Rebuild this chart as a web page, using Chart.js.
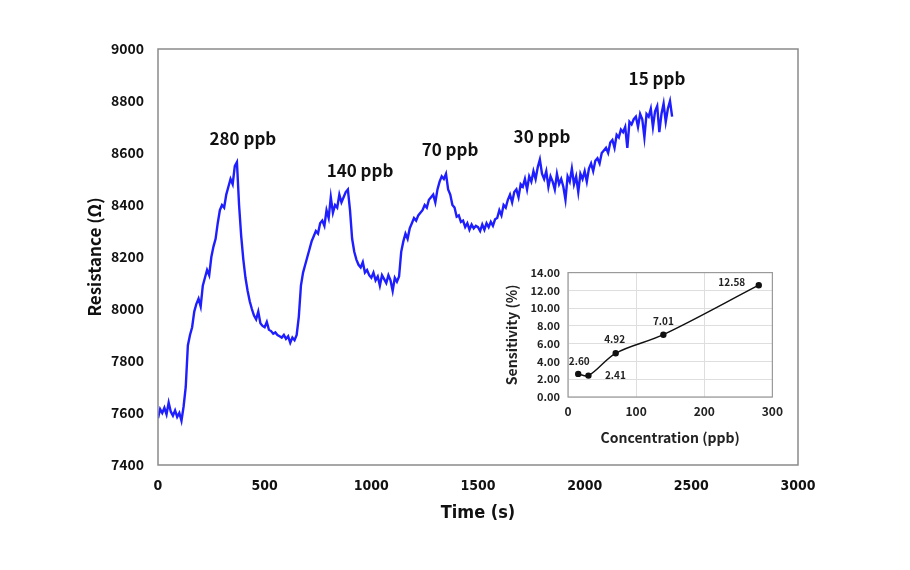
<!DOCTYPE html>
<html>
<head>
<meta charset="utf-8">
<title>Resistance vs Time</title>
<script src="https://cdn.jsdelivr.net/npm/chart.js@4.4.0/dist/chart.umd.min.js"></script>
<style>
    body { margin: 0; background: #fff; }
    #wrap { position: relative; width: 910px; height: 570px; }
    #mainChart { position: absolute; left: 0; top: 0; }
    #insetChart { position: absolute; left: 495px; top: 258px; }
</style>
</head>
<body>
<div id="wrap">
    <canvas id="mainChart" width="910" height="570"></canvas>
    <canvas id="insetChart" width="295" height="192"></canvas>
</div>
<script>
// ============================================
// DATA
// ============================================

// time (s), one reading every 10 s
const timeSec = [
    0, 10, 20, 30, 40, 50, 60, 70, 80, 90,
    100, 110, 120, 130, 140, 150, 160, 170, 180, 190,
    200, 210, 220, 230, 240, 250, 260, 270, 280, 290,
    300, 310, 320, 330, 340, 350, 360, 370, 380, 390,
    400, 410, 420, 430, 440, 450, 460, 470, 480, 490,
    500, 510, 520, 530, 540, 550, 560, 570, 580, 590,
    600, 610, 620, 630, 640, 650, 660, 670, 680, 690,
    700, 710, 720, 730, 740, 750, 760, 770, 780, 790,
    800, 810, 820, 830, 840, 850, 860, 870, 880, 890,
    900, 910, 920, 930, 940, 950, 960, 970, 980, 990,
    1000, 1010, 1020, 1030, 1040, 1050, 1060, 1070, 1080, 1090,
    1100, 1110, 1120, 1130, 1140, 1150, 1160, 1170, 1180, 1190,
    1200, 1210, 1220, 1230, 1240, 1250, 1260, 1270, 1280, 1290,
    1300, 1310, 1320, 1330, 1340, 1350, 1360, 1370, 1380, 1390,
    1400, 1410, 1420, 1430, 1440, 1450, 1460, 1470, 1480, 1490,
    1500, 1510, 1520, 1530, 1540, 1550, 1560, 1570, 1580, 1590,
    1600, 1610, 1620, 1630, 1640, 1650, 1660, 1670, 1680, 1690,
    1700, 1710, 1720, 1730, 1740, 1750, 1760, 1770, 1780, 1790,
    1800, 1810, 1820, 1830, 1840, 1850, 1860, 1870, 1880, 1890,
    1900, 1910, 1920, 1930, 1940, 1950, 1960, 1970, 1980, 1990,
    2000, 2010, 2020, 2030, 2040, 2050, 2060, 2070, 2080, 2090,
    2100, 2110, 2120, 2130, 2140, 2150, 2160, 2170, 2180, 2190,
    2200, 2210, 2220, 2230, 2240, 2250, 2260, 2270, 2280, 2290,
    2300, 2310, 2320, 2330, 2340, 2350, 2360, 2370, 2380, 2390,
    2400, 2410
];

// resistance (ohm)
const resistance = [
    7580, 7615, 7600, 7620, 7595, 7640, 7605, 7590, 7610, 7585,
    7600, 7570, 7625, 7700, 7860, 7900, 7930, 7990, 8020, 8040,
    8010, 8090, 8120, 8150, 8130, 8200, 8240, 8270, 8330, 8380,
    8400, 8390, 8440, 8470, 8500, 8480, 8550, 8565, 8400, 8280,
    8190, 8120, 8070, 8030, 8000, 7975, 7960, 7990, 7945, 7935,
    7930, 7950, 7920, 7915, 7905, 7910, 7900, 7895, 7890, 7900,
    7885, 7895, 7870, 7890, 7880, 7900, 7970, 8090, 8140, 8170,
    8200, 8230, 8260, 8280, 8300, 8290, 8330, 8340, 8320, 8380,
    8350, 8430, 8370, 8400, 8390, 8440, 8410, 8430, 8450, 8460,
    8380, 8270, 8220, 8190, 8170, 8160, 8180, 8140, 8150, 8130,
    8120, 8140, 8110, 8125, 8090, 8130, 8115, 8100, 8130, 8110,
    8070, 8120, 8105, 8125, 8220, 8260, 8290, 8270, 8310, 8330,
    8350, 8340, 8360, 8370, 8380, 8400, 8390, 8420, 8430, 8440,
    8410, 8460, 8490, 8510, 8500, 8520, 8460, 8440, 8400, 8390,
    8355, 8360, 8335, 8340, 8315, 8330, 8305, 8325, 8310, 8320,
    8315, 8300, 8325, 8305, 8330, 8315, 8335, 8320, 8345, 8350,
    8380, 8360, 8400, 8390, 8420, 8440, 8410, 8450, 8460, 8430,
    8480, 8470, 8500, 8460, 8510, 8490, 8530, 8500, 8545, 8575,
    8520, 8500, 8530, 8470, 8510, 8490, 8460, 8520, 8480, 8500,
    8470, 8420, 8510, 8490, 8540, 8480, 8510, 8450, 8520, 8500,
    8530, 8490, 8540, 8560, 8530, 8570, 8580, 8560, 8600, 8610,
    8620, 8600, 8640, 8650, 8620, 8670, 8660, 8690, 8680, 8700,
    8620, 8720, 8710, 8730, 8740, 8700, 8750, 8730, 8660, 8750,
    8740, 8770, 8700, 8760, 8780, 8680, 8750, 8790, 8720, 8770,
    8800, 8740
];

const xTicks = [0, 500, 1000, 1500, 2000, 2500, 3000];
const yTicks = [7400, 7600, 7800, 8000, 8200, 8400, 8600, 8800, 9000];

// concentration labels above each response
const peakText = ['280 ppb', '140 ppb', '70 ppb', '30 ppb', '15 ppb'];
const peakTime = [398, 947, 1369, 1800, 2339];
const peakRes = [8654, 8531, 8615, 8665, 8885];

// inset: sensitivity vs concentration
const concentration = [15, 30, 70, 140, 280];
const sensitivity = [2.60, 2.41, 4.92, 7.01, 12.58];
const insetXTicks = [0, 100, 200, 300];
const insetYTicks = [0, 2, 4, 6, 8, 10, 12, 14];

// ============================================
// STYLE
// ============================================
const FONT = '"Noto Sans CJK KR", "Noto Sans", sans-serif';
const NARROW = '"DejaVu Sans Condensed", "Noto Sans CJK KR", sans-serif';
const LINE_BLUE = '#1e1eff';
const BOX_GREY = '#8a8a8a';

// pixel offsets of the inset value labels from their points
const insetLabelOffset = [[1, -13], [27, 0], [-1, -14], [0, -14], [-27, -3]];

const boxBorder = {
    id: 'boxBorder',
    afterDraw(chart, args, opts) {
        const { ctx, chartArea: a } = chart;
        ctx.save();
        ctx.strokeStyle = opts.color || BOX_GREY;
        ctx.lineWidth = opts.width || 1.5;
        ctx.strokeRect(a.left, a.top, a.right - a.left, a.bottom - a.top);
        ctx.restore();
    }
};

const peakLabels = {
    id: 'peakLabels',
    afterDatasetsDraw(chart) {
        if (chart.canvas.id !== 'mainChart') return;
        const { ctx, scales } = chart;
        ctx.save();
        ctx.font = 'bold 17px ' + FONT;
        ctx.fillStyle = '#111';
        ctx.textAlign = 'center';
        ctx.textBaseline = 'middle';
        peakText.forEach((txt, i) => {
            ctx.fillText(txt, scales.x.getPixelForValue(peakTime[i]), scales.y.getPixelForValue(peakRes[i]));
        });
        ctx.restore();
    }
};

const valueLabels = {
    id: 'valueLabels',
    afterDatasetsDraw(chart) {
        if (chart.canvas.id !== 'insetChart') return;
        const { ctx } = chart;
        const pts = chart.getDatasetMeta(0).data;
        ctx.save();
        ctx.font = 'bold 10px ' + FONT;
        ctx.fillStyle = '#222';
        ctx.textAlign = 'center';
        ctx.textBaseline = 'middle';
        pts.forEach((p, i) => {
            const off = insetLabelOffset[i];
            ctx.fillText(sensitivity[i].toFixed(2), p.x + off[0], p.y + off[1]);
        });
        ctx.restore();
    }
};

function fixedTicks(values) {
    return (scale) => {
        scale.ticks = values.map((v) => ({ value: v }));
    };
}

// ============================================
// MAIN CHART
// ============================================
function initMainChart() {
    const ctx = document.getElementById('mainChart');
    new Chart(ctx, {
        type: 'line',
        data: {
            datasets: [
                {
                    data: timeSec.map((t, i) => ({ x: t, y: resistance[i] })),
                    borderColor: LINE_BLUE,
                    borderWidth: 2.4,
                    pointRadius: 0,
                    tension: 0,
                    fill: false,
                },
            ],
        },
        options: {
            responsive: false,
            animation: false,
            layout: { padding: { left: 80, right: 112, top: 49, bottom: 42 } },
            plugins: {
                legend: { display: false },
                tooltip: { enabled: false },
                boxBorder: { color: BOX_GREY, width: 1.5 },
            },
            scales: {
                x: {
                    type: 'linear',
                    min: 0,
                    max: 3000,
                    afterBuildTicks: fixedTicks(xTicks),
                    afterFit: (s) => { s.height = 63; },
                    grid: { display: false, drawTicks: false },
                    border: { display: false },
                    ticks: {
                        padding: 13,
                        color: '#111',
                        font: { family: NARROW, size: 14, weight: 'bold' },
                        callback: (v) => String(v),
                    },
                    title: {
                        display: true,
                        text: 'Time (s)',
                        color: '#111',
                        font: { family: NARROW, size: 18, weight: 'bold' },
                    },
                },
                y: {
                    min: 7400,
                    max: 9000,
                    afterBuildTicks: fixedTicks(yTicks),
                    afterFit: (s) => { s.width = 78; },
                    grid: { display: false, drawTicks: false },
                    border: { display: false },
                    ticks: {
                        padding: 14,
                        color: '#111',
                        font: { family: FONT, size: 14, weight: 'bold' },
                        callback: (v) => String(v),
                    },
                    title: {
                        display: true,
                        text: 'Resistance (Ω)',
                        color: '#111',
                        font: { family: FONT, size: 17, weight: 'bold' },
                    },
                },
            },
        },
        plugins: [boxBorder, peakLabels],
    });
}

// ============================================
// INSET CHART
// ============================================
function initInsetChart() {
    const ctx = document.getElementById('insetChart');
    new Chart(ctx, {
        type: 'line',
        data: {
            datasets: [
                {
                    data: concentration.map((c, i) => ({ x: c, y: sensitivity[i] })),
                    borderColor: '#111',
                    borderWidth: 1.4,
                    pointRadius: 2.5,
                    pointBackgroundColor: '#111',
                    pointBorderColor: '#111',
                    tension: 0.35,
                    fill: false,
                },
            ],
        },
        options: {
            responsive: false,
            animation: false,
            layout: { padding: { left: 4, right: 17, top: 12, bottom: 0 } },
            plugins: {
                legend: { display: false },
                tooltip: { enabled: false },
                boxBorder: { color: '#9a9a9a', width: 1.2 },
            },
            scales: {
                x: {
                    type: 'linear',
                    min: 0,
                    max: 300,
                    afterBuildTicks: fixedTicks(insetXTicks),
                    afterFit: (s) => { s.height = 53; },
                    grid: { color: '#dedede', drawTicks: false },
                    border: { display: false },
                    ticks: {
                        padding: 7,
                        color: '#222',
                        font: { family: FONT, size: 12, weight: 'bold' },
                    },
                    title: {
                        display: true,
                        text: 'Concentration (ppb)',
                        color: '#222',
                        font: { family: FONT, size: 14, weight: 'bold' },
                    },
                },
                y: {
                    min: 0,
                    max: 14,
                    afterBuildTicks: fixedTicks(insetYTicks),
                    afterFit: (s) => { s.width = 69; },
                    grid: { color: '#dedede', drawTicks: false },
                    border: { display: false },
                    ticks: {
                        padding: 8,
                        color: '#222',
                        font: { family: FONT, size: 11, weight: 'bold' },
                        callback: (v) => Number(v).toFixed(2),
                    },
                    title: {
                        display: true,
                        text: 'Sensitivity (%)',
                        color: '#222',
                        font: { family: FONT, size: 14, weight: 'bold' },
                    },
                },
            },
        },
        plugins: [boxBorder, valueLabels],
    });
}

document.addEventListener('DOMContentLoaded', () => {
    initMainChart();
    initInsetChart();
});
</script>
</body>
</html>
